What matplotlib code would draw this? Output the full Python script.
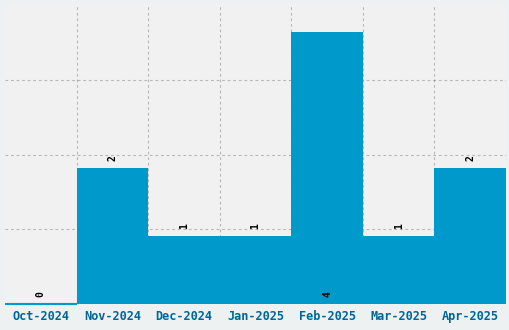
import matplotlib
matplotlib.use('Agg')
import matplotlib.pyplot as plt
import numpy as np

months = ['Oct-2024', 'Nov-2024', 'Dec-2024', 'Jan-2025', 'Feb-2025', 'Mar-2025', 'Apr-2025']
counts = [0, 2, 1, 1, 4, 1, 2]

bar_color = '#0099cc'
y_max = 4.4

fig = plt.figure(figsize=(5.1, 3.3), dpi=100)
fig.patch.set_facecolor('#eef1f2')
ax = fig.add_axes([5 / 510, 26 / 330, 501 / 510, 299 / 330])
ax.set_facecolor('#f1f1f1')

x = np.arange(len(months))
ax.bar(x, counts, width=1.0, color=bar_color, zorder=2)
# zero-value bar still shows as a thin line on the baseline
for xi, v in zip(x, counts):
    if v == 0:
        ax.plot([xi - 0.5, xi + 0.5], [0, 0], color=bar_color, lw=1.5, zorder=6,
                solid_capstyle='butt', clip_on=False)

ax.set_xlim(-0.5, len(months) - 0.5)
ax.set_ylim(0, y_max)

# grid: vertical lines at bar edges, horizontal at quarters
ax.set_xticks(x[:-1] + 0.5, minor=True)
ax.set_yticks(np.linspace(0, y_max, 5)[1:-1])
ax.grid(True, which='minor', axis='x', color='#333333', alpha=0.3, ls=(0, (2.5, 2.5)), lw=0.8, zorder=4)
ax.grid(True, which='major', axis='y', color='#333333', alpha=0.3, ls=(0, (2.5, 2.5)), lw=0.8, zorder=4)
ax.tick_params(axis='y', left=False, labelleft=False)
ax.tick_params(axis='x', which='both', length=0, pad=4)
ax.set_xticks(x)
ax.set_xticklabels(months, family='DejaVu Sans Mono', fontweight='bold',
                   fontsize=8.6, color='#006699')

for s in ax.spines.values():
    s.set_visible(False)

for xi, v in zip(x, counts):
    if v >= y_max * 0.85:
        ax.text(xi, 0.1, str(v), rotation=90, ha='center', va='bottom',
                fontsize=7, family='DejaVu Sans Mono', fontweight='bold', zorder=5)
    else:
        ax.text(xi, v + 0.1, str(v), rotation=90, ha='center', va='bottom',
                fontsize=7, family='DejaVu Sans Mono', fontweight='bold', zorder=5)

fig.savefig('out.png', dpi=100, facecolor=fig.get_facecolor())
